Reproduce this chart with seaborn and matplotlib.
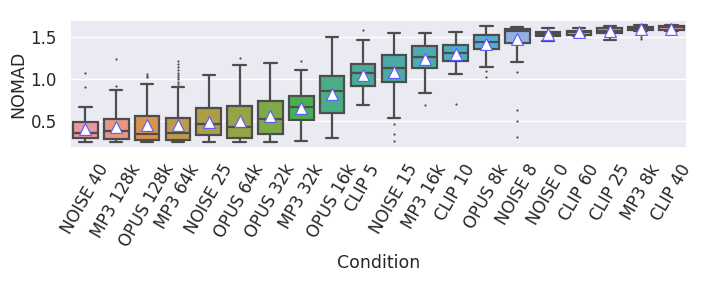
import matplotlib
matplotlib.use("Agg")
import matplotlib.pyplot as plt
import numpy as np
import pandas as pd
import seaborn as sns

conditions = ["NOISE 40", "MP3 128k", "OPUS 128k", "MP3 64k", "NOISE 25",
              "OPUS 64k", "OPUS 32k", "MP3 32k", "OPUS 16k", "CLIP 5",
              "NOISE 15", "MP3 16k", "CLIP 10", "OPUS 8k", "NOISE 8",
              "NOISE 0", "CLIP 60", "CLIP 25", "MP3 8k", "CLIP 40"]

# box statistics
whis_lo = [0.257, 0.250, 0.250, 0.257, 0.257, 0.257, 0.250, 0.265, 0.301, 0.690,
           0.539, 0.841, 1.067, 1.146, 1.206, 1.452, 1.519, 1.464, 1.571, 1.571]
q1 = [0.298, 0.286, 0.281, 0.277, 0.337, 0.305, 0.352, 0.519, 0.602, 0.920,
      0.971, 1.131, 1.214, 1.364, 1.429, 1.515, 1.531, 1.548, 1.590, 1.590]
median = [0.361, 0.381, 0.352, 0.357, 0.464, 0.429, 0.527, 0.670, 0.864, 1.079,
          1.131, 1.269, 1.310, 1.444, 1.579, 1.543, 1.563, 1.579, 1.611, 1.619]
q3 = [0.488, 0.527, 0.563, 0.543, 0.662, 0.678, 0.745, 0.801, 1.043, 1.179,
      1.289, 1.396, 1.405, 1.524, 1.599, 1.563, 1.579, 1.615, 1.623, 1.631]
whis_hi = [0.674, 0.876, 0.940, 0.908, 1.048, 1.170, 1.198, 1.114, 1.500, 1.472,
           1.548, 1.555, 1.567, 1.631, 1.623, 1.615, 1.611, 1.635, 1.643, 1.650]
means = [0.415, 0.429, 0.452, 0.452, 0.495, 0.504, 0.563, 0.662, 0.825, 1.048,
         1.091, 1.238, 1.301, 1.417, 1.480, 1.539, 1.559, 1.571, 1.599, 1.595]

# outliers (condition, value)
flier_cond = ["NOISE 40", "NOISE 40", "MP3 128k", "MP3 128k",
              "OPUS 128k", "OPUS 128k", "OPUS 128k",
              "MP3 64k", "MP3 64k", "MP3 64k", "MP3 64k", "MP3 64k",
              "MP3 64k", "MP3 64k", "MP3 64k", "MP3 64k", "MP3 64k",
              "OPUS 64k", "MP3 32k", "CLIP 5",
              "NOISE 15", "NOISE 15", "NOISE 15", "MP3 16k", "CLIP 10",
              "OPUS 8k", "OPUS 8k", "NOISE 8", "NOISE 8", "NOISE 8", "NOISE 8",
              "MP3 8k", "MP3 8k", "MP3 8k", "MP3 8k"]
flier_val = [1.071, 0.905, 1.238, 0.920,
             1.063, 1.043, 1.024,
             1.218, 1.182, 1.146, 1.111, 1.079,
             1.051, 1.027, 1.000, 0.971, 0.944,
             1.257, 1.218, 1.583,
             0.468, 0.352, 0.269, 0.694, 0.710,
             1.099, 1.027, 1.091, 0.638, 0.504, 0.313,
             1.548, 1.524, 1.500, 1.476]


def main():
    sns.set_theme(style="darkgrid")

    rows = []
    for i, c in enumerate(conditions):
        # sample reproducing the read quartiles and whisker ends
        for v in [whis_lo[i], q1[i], q1[i], median[i], q3[i], q3[i], whis_hi[i]]:
            rows.append((c, v))
    df = pd.DataFrame(rows, columns=["Condition", "NOMAD"])
    df_fl = pd.DataFrame({"Condition": flier_cond, "NOMAD": flier_val})
    df_mean = pd.DataFrame({"Condition": conditions, "NOMAD": means})

    fig = plt.figure(figsize=(7.14, 2.86), dpi=100)
    ax = fig.add_axes([0.098, 0.483, 0.864, 0.447])

    pal = sns.husl_palette(len(conditions), l=.7)
    sns.boxplot(data=df, x="Condition", y="NOMAD", hue="Condition",
                order=conditions, hue_order=conditions, palette=pal,
                whis=(0, 100), showfliers=False, width=0.8,
                linewidth=1.6, linecolor="0.3", legend=False, ax=ax)
    sns.stripplot(data=df_fl, x="Condition", y="NOMAD", order=conditions,
                  jitter=False, color="0.3", size=1.6, ax=ax)
    sns.stripplot(data=df_mean, x="Condition", y="NOMAD", order=conditions,
                  jitter=False, marker="^", color="white", edgecolor="#5a5aff",
                  linewidth=0.8, size=8.5, zorder=10, ax=ax)

    ax.set_ylim(0.186, 1.706)
    ax.set_yticks([0.5, 1.0, 1.5])
    ax.tick_params(labelsize=12)
    plt.setp(ax.get_xticklabels(), rotation=60)
    ax.set_xlabel("Condition", fontsize=12.5, labelpad=3)
    ax.set_ylabel("NOMAD", fontsize=12.5, labelpad=2)

    fig.savefig("out.png", dpi=100)


if __name__ == "__main__":
    main()
